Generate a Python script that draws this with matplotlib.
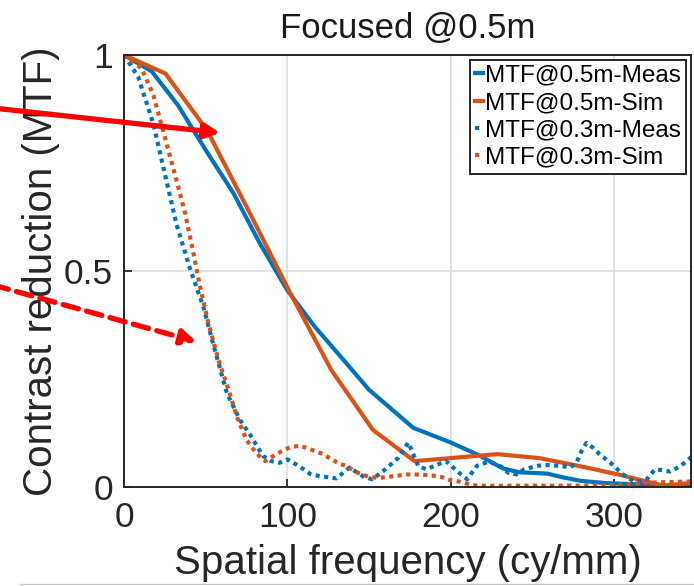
import matplotlib
matplotlib.use("Agg")
import matplotlib.pyplot as plt
from matplotlib.lines import Line2D

plt.rcParams['font.family'] = ['Liberation Sans', 'DejaVu Sans']

# MTF@0.5m measured (solid blue)
meas05_f = [0, 17, 33, 50, 67, 83, 100, 117, 133, 150, 177, 200, 218, 226, 232,
            242, 259, 269, 280, 295, 315, 335, 350]
meas05_v = [1.0, 0.962, 0.884, 0.78, 0.68, 0.565, 0.455, 0.37, 0.30, 0.225, 0.137,
            0.103, 0.072, 0.055, 0.043, 0.034, 0.031, 0.022, 0.014, 0.009, 0.006,
            0.003, 0.0]

# MTF@0.5m simulated (solid orange)
sim05_f = [0, 25.4, 50.8, 76.2, 101.6, 127, 152.4, 177.8, 203.2, 228.6, 254,
           279.4, 304.8, 330.2, 355.6]
sim05_v = [1.0, 0.957, 0.826, 0.64, 0.45, 0.27, 0.132, 0.060, 0.068, 0.076,
           0.067, 0.048, 0.027, 0.003, 0.013]

# MTF@0.3m measured (dotted blue)
meas03_f = [0, 8.6, 18, 25, 32, 40, 48.6, 55, 63, 71, 77, 85, 90, 95, 100, 105,
            110, 114, 120, 130, 138, 147, 152, 160, 168, 174, 180, 185, 190, 197,
            205, 210, 216, 222, 226, 232, 235, 240, 245, 253, 259, 267, 273, 277,
            280, 283, 287, 291, 295, 300, 304, 308, 312, 316, 320, 325, 329, 334,
            340, 345, 349]
meas03_v = [1.0, 0.95, 0.84, 0.725, 0.61, 0.51, 0.417, 0.325, 0.217, 0.155, 0.122,
            0.072, 0.060, 0.056, 0.064, 0.053, 0.041, 0.030, 0.025, 0.020, 0.045,
            0.023, 0.018, 0.041, 0.068, 0.103, 0.049, 0.041, 0.049, 0.060, 0.033,
            0.018, 0.049, 0.057, 0.055, 0.045, 0.033, 0.029, 0.041, 0.049, 0.051,
            0.049, 0.045, 0.057, 0.083, 0.102, 0.091, 0.076, 0.064, 0.049, 0.033,
            0.022, 0.014, 0.013, 0.018, 0.041, 0.039, 0.036, 0.047, 0.062, 0.076]

# MTF@0.3m simulated (dotted orange)
sim03_f = [0, 10.8, 18, 25, 31, 37.4, 42.5, 46.6, 51.6, 57.8, 64, 69, 75, 81,
           86.4, 91.5, 96.6, 101.6, 106.7, 111.8, 116.9, 122, 127, 132.2, 136.3,
           140.4, 145.5, 150.6, 155.7, 160.8, 166.9, 173, 179.2, 184.3, 189.4,
           194.5, 199.6, 204.7, 209.8, 216, 240, 270, 300, 320, 350]
sim03_v = [1.0, 0.969, 0.907, 0.81, 0.726, 0.634, 0.541, 0.463, 0.38, 0.294,
           0.225, 0.163, 0.109, 0.078, 0.060, 0.072, 0.083, 0.092, 0.095, 0.091,
           0.083, 0.076, 0.064, 0.053, 0.049, 0.038, 0.029, 0.023, 0.021, 0.023,
           0.026, 0.029, 0.029, 0.028, 0.026, 0.023, 0.016, 0.013, 0.008, 0.003,
           0.003, 0.003, 0.004, 0.010, 0.013]

labels = ['MTF@0.5m-Meas', 'MTF@0.5m-Sim', 'MTF@0.3m-Meas', 'MTF@0.3m-Sim']
x_ticks = [0, 100, 200, 300]
y_ticks = [0, 0.5, 1]
y_ticklabels = ['0', '0.5', '1']

blue = '#0072BD'
orange = '#D95319'
dots = (0, (1, 1.05))

fig = plt.figure(figsize=(6.94, 5.86), dpi=100)
ax = fig.add_axes([124 / 694, 99 / 586, 567 / 694, 432 / 586])

ax.plot(meas05_f, meas05_v, color=blue, lw=3, label=labels[0])
ax.plot(sim05_f, sim05_v, color=orange, lw=3, label=labels[1])
ax.plot(meas03_f, meas03_v, color=blue, lw=3, ls=dots, label=labels[2])
ax.plot(sim03_f, sim03_v, color=orange, lw=3, ls=dots, label=labels[3])

ax.set_xlim(0, 347)
ax.set_ylim(0, 1)
ax.set_xticks(x_ticks)
ax.set_yticks(y_ticks)
ax.set_yticklabels(y_ticklabels)
ax.grid(True, color='#dcdcdc', lw=1.2)
ax.set_axisbelow(True)
ax.tick_params(direction='in', length=6, width=1.3, labelsize=25.5, colors='#262626',
               pad=8)
ax.tick_params(axis='x', pad=10)
for s in ax.spines.values():
    s.set_linewidth(1.4)
    s.set_color('#262626')

ax.set_xlabel('Spatial frequency (cy/mm)', fontsize=29, color='#262626', labelpad=7)
ax.set_ylabel('Contrast reduction (MTF)', fontsize=29, color='#262626', labelpad=3)
ax.set_title('Focused @0.5m', fontsize=25, color='#1a1a1a', pad=12)

leg = ax.legend(loc='upper right', fontsize=17.5, handlelength=0.35,
                handletextpad=0.08, borderpad=0.2, labelspacing=0.22,
                borderaxespad=0.2, fancybox=False, framealpha=1,
                edgecolor='#262626')
leg.get_frame().set_linewidth(1.4)

# red annotation arrows coming in from the left edge
ax.annotate('', xy=(58.8, 0.82), xycoords='data',
            xytext=(-0.01, 0.8157), textcoords='figure fraction',
            arrowprops=dict(arrowstyle='-|>', color='red', lw=3.8,
                            mutation_scale=22, shrinkA=0, shrinkB=0))
ax.annotate('', xy=(44.5, 0.336), xycoords='data',
            xytext=(-0.01, 0.5137), textcoords='figure fraction',
            arrowprops=dict(arrowstyle='-|>', color='red', lw=3.8,
                            ls=(0, (3, 1.6)), mutation_scale=22,
                            shrinkA=0, shrinkB=0))

fig.add_artist(Line2D([20 / 694, 1], [2 / 586, 2 / 586], color='#c8c8c8', lw=1))

fig.savefig('out.png', dpi=100)
